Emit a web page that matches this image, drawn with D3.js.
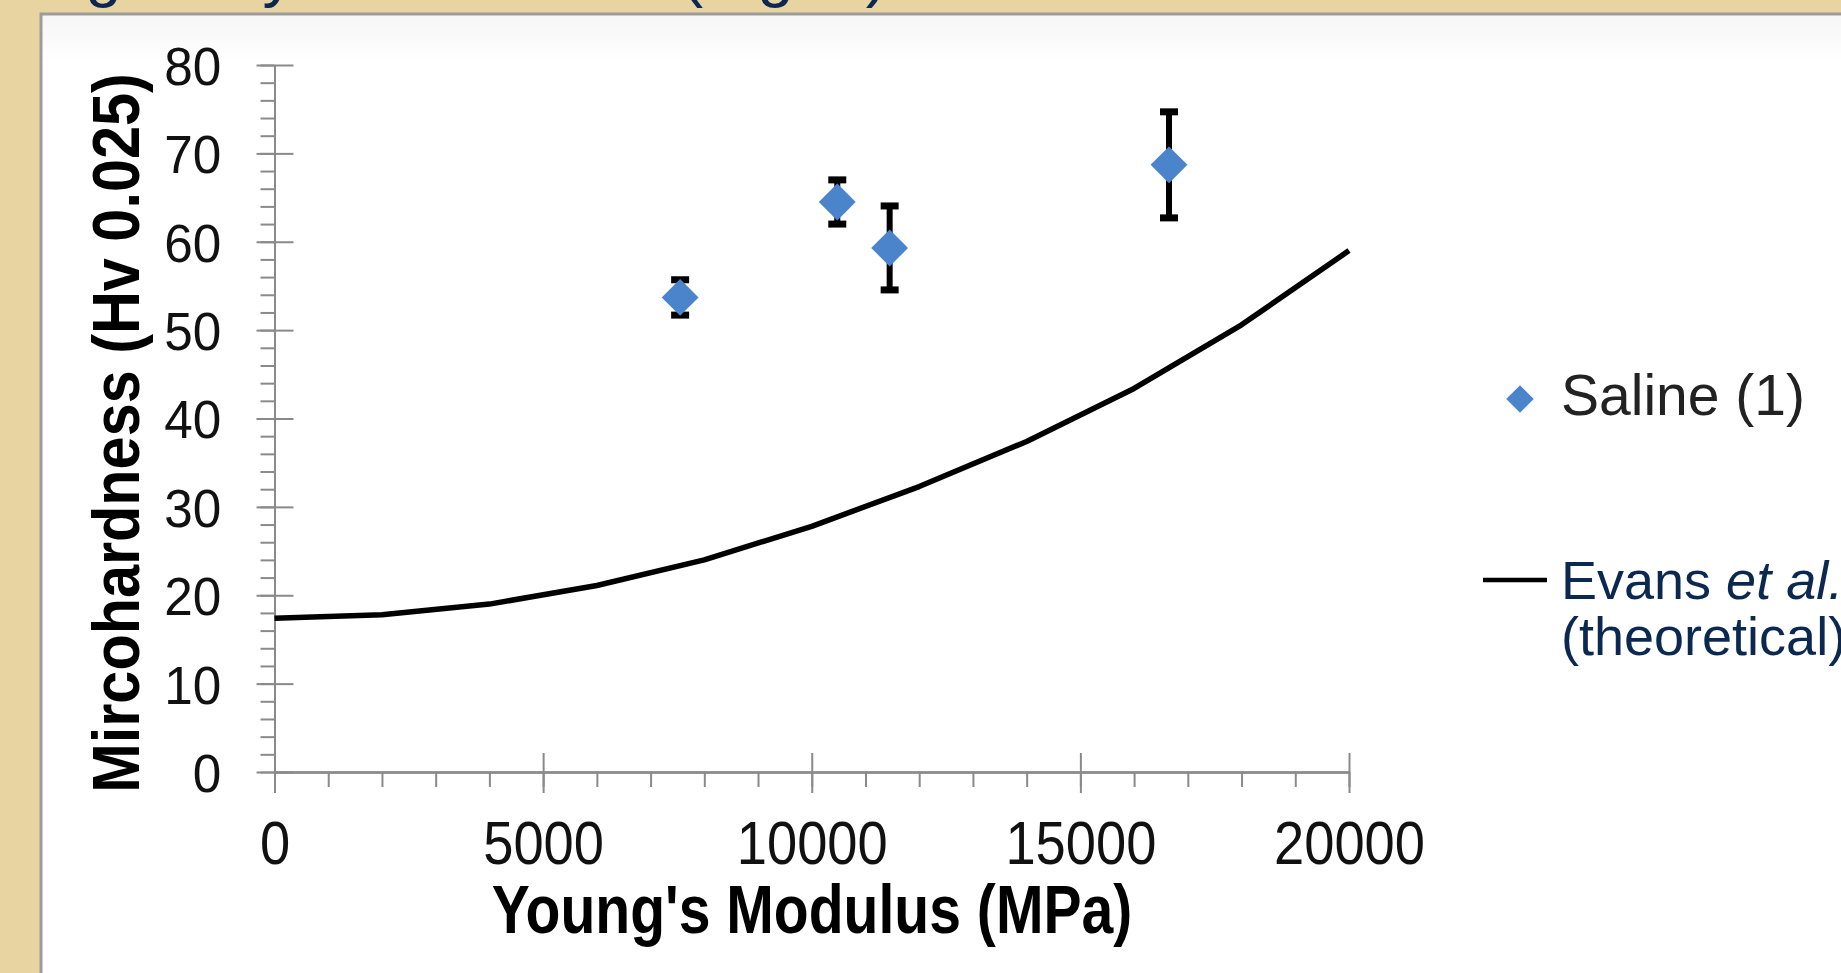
<!DOCTYPE html>
<html><head><meta charset="utf-8">
<script src="https://cdn.jsdelivr.net/npm/d3@7"></script>
<style>
html,body{margin:0;padding:0;overflow:hidden;background:#E7D4A0;}
svg{display:block}
</style></head><body>
<svg id="c" width="1841" height="973"></svg>
<script>
// ---- data ----
const xTicks = [0, 5000, 10000, 15000, 20000];
const yTicks = [0, 10, 20, 30, 40, 50, 60, 70, 80];
const salineX = [7550, 10475, 11450, 16650];
const salineY = [53.7, 64.5, 59.3, 68.7];
const salineErr = [2.0, 2.5, 4.75, 6.0];
const evansX = [0, 2000, 4000, 6000, 8000, 10000, 12000, 14000, 16000, 18000, 20000];
const evansY = [17.4, 17.8, 19.0, 21.1, 24.0, 27.8, 32.3, 37.4, 43.4, 50.6, 59.0];
const seriesNames = ["Saline (1)", "Evans", "et al.", "(theoretical)"];
const xTitle = "Young's Modulus (MPa)";
const yTitle = "Mircohardness (Hv 0.025)";
const titleText = "Long study of Hardness (Fig. 3)";

// ---- setup ----
const W = 1841, H = 973;
const svg = d3.select('#c');
const x = d3.scaleLinear().domain([0, 20000]).range([274.5, 1349]);
const y = d3.scaleLinear().domain([0, 80]).range([772, 65]);
const axisCol = '#8a8a8a';
const blue = '#4A85CC';
const navy = '#0B2850';
const font = 'Liberation Sans, Arial, sans-serif';

svg.append('rect').attr('width', W).attr('height', H).attr('fill', '#E7D4A0');
svg.append('text').attr('x', -23).attr('y', -5)
  .attr('font-family', font).attr('font-size', 65)
  .attr('fill', navy).text(titleText);

const defs = svg.append('defs');
const lg = defs.append('linearGradient').attr('id', 'pg').attr('x1', 0).attr('y1', 0).attr('x2', 0).attr('y2', 1);
lg.append('stop').attr('offset', '0').attr('stop-color', '#f6f6f6');
lg.append('stop').attr('offset', '0.05').attr('stop-color', '#ffffff');
lg.append('stop').attr('offset', '1').attr('stop-color', '#ffffff');
svg.append('rect').attr('x', 41).attr('y', 14).attr('width', W).attr('height', H)
  .attr('fill', 'url(#pg)').attr('stroke', '#9c9c9c').attr('stroke-width', 3);

// ---- axes ----
function styleAxis(g) {
  g.selectAll('path,line').attr('stroke', axisCol).attr('stroke-width', 2);
  g.selectAll('text').remove();
}
const gx = svg.append('g').attr('transform', `translate(0,${y(0)})`);
gx.append('g').call(d3.axisBottom(x).ticks(20).tickSize(15).tickSizeOuter(0).tickFormat('')).call(styleAxis);
gx.append('g').call(d3.axisBottom(x).tickValues(xTicks).tickSize(21).tickSizeOuter(0).tickFormat('')).call(styleAxis);
gx.append('g').call(d3.axisBottom(x).tickValues(xTicks).tickSize(-19).tickSizeOuter(0).tickFormat('')).call(styleAxis);

const gy = svg.append('g').attr('transform', `translate(${x(0)},0)`);
gy.append('g').call(d3.axisLeft(y).ticks(40).tickSize(14).tickSizeOuter(0).tickFormat('')).call(styleAxis);
gy.append('g').call(d3.axisLeft(y).tickValues(yTicks).tickSize(18).tickSizeOuter(0).tickFormat('')).call(styleAxis);
gy.append('g').call(d3.axisLeft(y).tickValues(yTicks).tickSize(-19).tickSizeOuter(0).tickFormat('')).call(styleAxis);

// tick labels via axes
const xl = svg.append('g').attr('transform', `translate(0,${y(0)})`)
  .call(d3.axisBottom(x).tickValues(xTicks).tickSize(0).tickFormat(d3.format('d')));
xl.select('.domain').remove();
xl.selectAll('text').attr('font-family', font).attr('font-size', 61)
  .attr('fill', '#111').attr('y', 92).attr('dy', null).attr('transform', 'scale(0.89,1)');

const yl = svg.append('g').attr('transform', `translate(${x(0)},0)`)
  .call(d3.axisLeft(y).tickValues(yTicks).tickSize(0).tickFormat(d3.format('d')));
yl.select('.domain').remove();
yl.selectAll('text').attr('font-family', font).attr('font-size', 54)
  .attr('fill', '#111').attr('x', -56).attr('dy', '0.36em').attr('transform', 'scale(0.95,1)');

// axis titles
svg.append('text').attr('transform', 'translate(812,933) scale(0.84,1)')
  .attr('text-anchor', 'middle').attr('font-family', font)
  .attr('font-weight', 'bold').attr('font-size', 68).attr('fill', '#000').text(xTitle);
svg.append('text').attr('transform', 'translate(122,433) rotate(-90) scale(0.9,1)')
  .attr('text-anchor', 'middle').attr('y', 17).attr('font-family', font)
  .attr('font-weight', 'bold').attr('font-size', 66).attr('fill', '#000').text(yTitle);

// ---- Evans curve ----
const evans = evansX.map((v, i) => [v, evansY[i]]);
svg.append('path').datum(evans)
  .attr('d', d3.line().x(d => x(d[0])).y(d => y(d[1])))
  .attr('fill', 'none').attr('stroke', '#000').attr('stroke-width', 5.5)
  .attr('stroke-linejoin', 'round');

// ---- Saline points with error bars ----
const pts = salineX.map((v, i) => ({x: v, y: salineY[i], e: salineErr[i]}));
const eb = svg.append('g').attr('stroke', '#000');
eb.selectAll('line.v').data(pts).join('line').attr('class', 'v')
  .attr('x1', d => x(d.x)).attr('x2', d => x(d.x))
  .attr('y1', d => y(d.y + d.e)).attr('y2', d => y(d.y - d.e)).attr('stroke-width', 6);
eb.selectAll('line.t').data(pts).join('line').attr('class', 't')
  .attr('x1', d => x(d.x) - 9).attr('x2', d => x(d.x) + 9)
  .attr('y1', d => y(d.y + d.e)).attr('y2', d => y(d.y + d.e)).attr('stroke-width', 7);
eb.selectAll('line.b').data(pts).join('line').attr('class', 'b')
  .attr('x1', d => x(d.x) - 9).attr('x2', d => x(d.x) + 9)
  .attr('y1', d => y(d.y - d.e)).attr('y2', d => y(d.y - d.e)).attr('stroke-width', 7);

const diamond = d3.symbol().type(d3.symbolSquare).size(680);
svg.append('g').selectAll('path').data(pts).join('path')
  .attr('d', diamond)
  .attr('transform', d => `translate(${x(d.x)},${y(d.y)}) rotate(45)`)
  .attr('fill', blue);

// ---- legend ----
const leg = svg.append('g').attr('font-family', font);
leg.append('path').attr('d', d3.symbol().type(d3.symbolSquare).size(380))
  .attr('transform', 'translate(1520,399) rotate(45)').attr('fill', blue);
leg.append('text').attr('x', 1561).attr('y', 415).attr('font-size', 57).attr('fill', '#222').text(seriesNames[0]);
leg.append('line').attr('x1', 1483).attr('x2', 1547).attr('y1', 580).attr('y2', 580)
  .attr('stroke', '#000').attr('stroke-width', 4.5);
const t2 = leg.append('text').attr('x', 1561).attr('y', 599).attr('font-size', 54).attr('fill', navy);
t2.append('tspan').text(seriesNames[1] + ' ');
t2.append('tspan').attr('font-style', 'italic').text(seriesNames[2]);
leg.append('text').attr('x', 1561).attr('y', 655).attr('font-size', 54).attr('fill', navy).text(seriesNames[3]);
</script>
</body></html>
